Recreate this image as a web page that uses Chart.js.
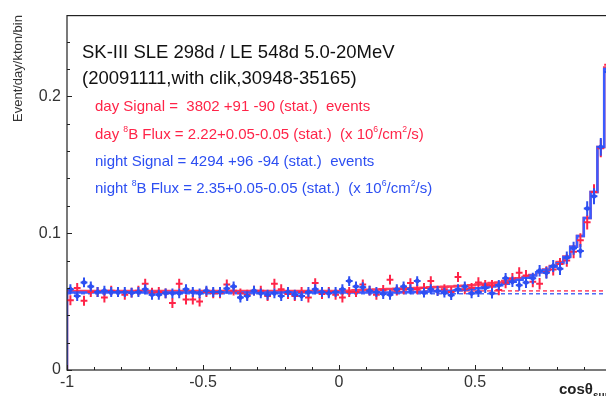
<!DOCTYPE html>
<html>
<head>
<meta charset="utf-8">
<script src="https://cdn.jsdelivr.net/npm/chart.js@4.4.1/dist/chart.umd.min.js"></script>
<style>
  html, body { margin:0; padding:0; background:#fff; overflow:hidden; width:606px; height:396px; }
  #wrap { position:absolute; left:0; top:0; width:614px; height:396px; }
</style>
</head>
<body>
<div id="wrap"><canvas id="c"></canvas></div>
<script>
// ===== Data =====
const xMin = -1, xMax = 1;
const nBins = 80;
const yMax = 0.259;
const xTickLabels = [-1, -0.5, 0, 0.5];
const yTickLabels = [0, 0.1, 0.2];

// day (red) and night (blue) event rates per bin
const dayPoints = [
  0.051, 0.060, 0.0506, 0.057, 0.057, 0.053, 0.058, 0.057, 0.055, 0.0565,
  0.058, 0.063, 0.0565, 0.057, 0.056, 0.049, 0.063, 0.0515, 0.0515, 0.050,
  0.057, 0.056, 0.056, 0.0625, 0.058, 0.056, 0.055, 0.058, 0.058, 0.054,
  0.063, 0.059, 0.0555, 0.054, 0.057, 0.053, 0.0635, 0.0555, 0.057, 0.055,
  0.053, 0.057, 0.057, 0.0625, 0.058, 0.055, 0.0585, 0.066, 0.058, 0.059,
  0.0635, 0.059, 0.060, 0.065, 0.058, 0.059, 0.057, 0.068, 0.059, 0.060,
  0.064, 0.062, 0.062, 0.0584, 0.0637, 0.067, 0.071, 0.069, 0.0645, 0.063,
  0.0716, 0.0735, 0.0774, 0.080, 0.0864, 0.0949, 0.108, 0.130, 0.162, 0.223
];
const nightPoints = [
  0.059, 0.054, 0.064, 0.061, 0.057, 0.058, 0.057, 0.057, 0.057, 0.0565,
  0.057, 0.059, 0.055, 0.055, 0.056, 0.056, 0.056, 0.059, 0.057, 0.056,
  0.058, 0.057, 0.057, 0.0595, 0.061, 0.053, 0.054, 0.058, 0.056, 0.055,
  0.056, 0.054, 0.057, 0.055, 0.054, 0.057, 0.059, 0.057, 0.056, 0.057,
  0.059, 0.065, 0.061, 0.0605, 0.058, 0.057, 0.0555, 0.055, 0.059, 0.061,
  0.059, 0.065, 0.0565, 0.059, 0.0577, 0.0565, 0.0547, 0.059, 0.061, 0.056,
  0.057, 0.060, 0.056, 0.062, 0.067, 0.0645, 0.062, 0.064, 0.067, 0.0725,
  0.071, 0.076, 0.074, 0.082, 0.089, 0.087, 0.118, 0.127, 0.163, 0.218
];
// statistical error (half height of the cross)
const pointErr = [
  0.0036, 0.0036, 0.0036, 0.0036, 0.0036, 0.0036, 0.0036, 0.0036, 0.0036, 0.0036,
  0.0036, 0.0036, 0.0036, 0.0036, 0.0036, 0.0036, 0.0036, 0.0036, 0.0036, 0.0036,
  0.0036, 0.0036, 0.0036, 0.0036, 0.0036, 0.0036, 0.0036, 0.0036, 0.0036, 0.0036,
  0.0036, 0.0036, 0.0036, 0.0036, 0.0036, 0.0036, 0.0036, 0.0036, 0.0036, 0.0036,
  0.0036, 0.0036, 0.0036, 0.0036, 0.0036, 0.0036, 0.0036, 0.0036, 0.0036, 0.0036,
  0.0036, 0.0036, 0.0036, 0.0036, 0.0036, 0.0036, 0.0036, 0.0036, 0.0036, 0.0036,
  0.0037, 0.0037, 0.0038, 0.0038, 0.0039, 0.0039, 0.0040, 0.0040, 0.0041, 0.0042,
  0.0043, 0.0044, 0.0045, 0.0046, 0.0048, 0.0050, 0.0053, 0.0058, 0.0065, 0.0075
];
// fitted signal + background (step histograms)
const dayFit = [
  0.0578, 0.0578, 0.0578, 0.0578, 0.0578, 0.0578, 0.0578, 0.0578, 0.0578, 0.0578,
  0.0578, 0.0578, 0.0578, 0.0578, 0.0578, 0.0578, 0.0578, 0.0578, 0.0578, 0.0578,
  0.0578, 0.0578, 0.0578, 0.0578, 0.0578, 0.0578, 0.0578, 0.0578, 0.0578, 0.0578,
  0.0578, 0.0578, 0.0578, 0.0578, 0.0578, 0.0578, 0.0578, 0.0578, 0.0578, 0.0578,
  0.0578, 0.0580, 0.0582, 0.0584, 0.0586, 0.0588, 0.0590, 0.0592, 0.0594, 0.0596,
  0.0598, 0.0600, 0.0602, 0.0604, 0.0606, 0.0608, 0.0610, 0.0613, 0.0616, 0.0620,
  0.0625, 0.0630, 0.0635, 0.0640, 0.0650, 0.0660, 0.0670, 0.0680, 0.0695, 0.0715,
  0.0735, 0.0760, 0.0790, 0.0830, 0.0900, 0.0980, 0.1110, 0.1300, 0.1630, 0.2210
];
const nightFit = [
  0.0566, 0.0566, 0.0566, 0.0566, 0.0566, 0.0566, 0.0566, 0.0566, 0.0566, 0.0566,
  0.0566, 0.0566, 0.0566, 0.0566, 0.0566, 0.0566, 0.0566, 0.0566, 0.0566, 0.0566,
  0.0566, 0.0566, 0.0566, 0.0566, 0.0566, 0.0566, 0.0566, 0.0566, 0.0566, 0.0566,
  0.0566, 0.0566, 0.0566, 0.0566, 0.0566, 0.0566, 0.0566, 0.0566, 0.0566, 0.0566,
  0.0566, 0.0566, 0.0566, 0.0566, 0.0566, 0.0566, 0.0566, 0.0566, 0.0567, 0.0568,
  0.0569, 0.0570, 0.0571, 0.0573, 0.0575, 0.0577, 0.0580, 0.0583, 0.0587, 0.0592,
  0.0598, 0.0605, 0.0610, 0.0620, 0.0630, 0.0645, 0.0660, 0.0675, 0.0690, 0.0715,
  0.0730, 0.0755, 0.0780, 0.0825, 0.0900, 0.0980, 0.1110, 0.1300, 0.1630, 0.2200
];
// flat background levels (dashed)
const dayBg = 0.0578;
const nightBg = 0.0557;

const RED = "#ff2448";
const BLUE = "#2d4ff2";

// ===== Helpers =====
const binW = (xMax - xMin) / nBins;
function stepData(vals){
  const d = [{x: xMin, y: 0}];
  vals.forEach((v, i) => d.push({x: xMin + i*binW, y: v}));
  d.push({x: xMax, y: vals[vals.length-1]});
  return d;
}
function flatData(v){ return [{x: xMin, y: v}, {x: xMax, y: v}]; }

// texts, "^" marks a superscript part
const headLines = [
  {parts:["SK-III SLE 298d / LE 548d 5.0-20MeV"], color:"#111", size:18.5, x:82, y:58},
  {parts:["(20091111,with clik,30948-35165)"], color:"#111", size:18.5, x:82, y:84},
  {parts:["day Signal =  3802 +91 -90 (stat.)  events"], color:RED, size:15, x:95, y:111},
  {parts:["day ", "^8", "B Flux = 2.22+0.05-0.05 (stat.)  (x 10", "^6", "/cm", "^2", "/s)"], color:RED, size:15, x:95, y:139},
  {parts:["night Signal = 4294 +96 -94 (stat.)  events"], color:BLUE, size:15, x:95, y:166},
  {parts:["night ", "^8", "B Flux = 2.35+0.05-0.05 (stat.)  (x 10", "^6", "/cm", "^2", "/s)"], color:BLUE, size:15, x:95, y:193}
];

function drawRich(ctx, line){
  let x = line.x;
  line.parts.forEach(p => {
    const sup = p.startsWith("^");
    const t = sup ? p.slice(1) : p;
    const s = sup ? line.size*0.58 : line.size;
    ctx.font = s + "px 'Liberation Sans', Arial, sans-serif";
    ctx.fillStyle = line.color;
    ctx.fillText(t, x, sup ? line.y - line.size*0.45 : line.y);
    x += ctx.measureText(t).width;
  });
}

function drawCrosses(chart, vals, color, marker){
  const ctx = chart.ctx, xs = chart.scales.x, ys = chart.scales.y;
  const a = chart.chartArea;
  ctx.save();
  ctx.beginPath(); ctx.rect(a.left, a.top, a.right - a.left, a.bottom - a.top); ctx.clip();
  ctx.strokeStyle = color; ctx.fillStyle = color; ctx.lineWidth = 2;
  vals.forEach((v, i) => {
    const c = xMin + (i + 0.5)*binW;
    const px = xs.getPixelForValue(c);
    const py = ys.getPixelForValue(v);
    ctx.beginPath();
    ctx.moveTo(xs.getPixelForValue(c - binW/2), py);
    ctx.lineTo(xs.getPixelForValue(c + binW/2), py);
    ctx.moveTo(px, ys.getPixelForValue(v - pointErr[i]));
    ctx.lineTo(px, ys.getPixelForValue(v + pointErr[i]));
    ctx.stroke();
    if(marker){
      ctx.beginPath();
      ctx.moveTo(px, py - 3.2); ctx.lineTo(px + 3.2, py); ctx.lineTo(px, py + 3.2); ctx.lineTo(px - 3.2, py);
      ctx.closePath(); ctx.fill();
    }
  });
  ctx.restore();
}

const decor = {
  id: "decor",
  afterDatasetsDraw(chart){
    drawCrosses(chart, dayPoints, RED, false);
    drawCrosses(chart, nightPoints, BLUE, true);
  },
  afterDraw(chart){
    const ctx = chart.ctx, a = chart.chartArea, xs = chart.scales.x, ys = chart.scales.y;
    ctx.save();
    // frame
    ctx.strokeStyle = "#222"; ctx.lineWidth = 1.2;
    ctx.strokeRect(a.left, a.top, a.right - a.left, a.bottom - a.top);
    // inward ticks
    ctx.lineWidth = 1;
    for(let k = 0; k <= 12; k++){
      const v = k*0.02;
      const py = Math.round(ys.getPixelForValue(v)) + 0.5;
      const len = (k % 5 === 0) ? 5 : 3;
      ctx.beginPath(); ctx.moveTo(a.left, py); ctx.lineTo(a.left + len, py); ctx.stroke();
    }
    for(let k = 0; k <= 20; k++){
      const v = xMin + k*0.1;
      const px = Math.round(xs.getPixelForValue(v)) + 0.5;
      const len = (k % 5 === 0) ? 5 : 3;
      ctx.beginPath(); ctx.moveTo(px, a.bottom); ctx.lineTo(px, a.bottom - len); ctx.stroke();
    }
    // header texts
    ctx.textBaseline = "alphabetic"; ctx.textAlign = "left";
    headLines.forEach(l => drawRich(ctx, l));
    // y title
    ctx.save();
    ctx.translate(22, 122); ctx.rotate(-Math.PI/2);
    ctx.fillStyle = "#333"; ctx.font = "13px 'Liberation Sans', Arial, sans-serif";
    ctx.fillText("Event/day/kton/bin", 0, 0);
    ctx.restore();
    // x title
    ctx.fillStyle = "#222"; ctx.font = "bold 15px 'Liberation Sans', Arial, sans-serif";
    ctx.fillText("cos\u03b8", 559, 394);
    const w = ctx.measureText("cos\u03b8").width;
    ctx.font = "bold 10px 'Liberation Sans', Arial, sans-serif";
    ctx.fillText("sun", 559 + w, 399);
    ctx.restore();
  }
};

// ===== Chart =====
// Chart.js paints the first dataset on top, so night (blue) comes first
new Chart(document.getElementById("c"), {
  type: "line",
  data: {
    datasets: [
      { data: stepData(nightFit), borderColor: "#3a5cff", borderWidth: 2.5, stepped: "before", pointRadius: 0 },
      { data: stepData(dayFit), borderColor: "#ff3a5a", borderWidth: 2.5, stepped: "before", pointRadius: 0 },
      { data: flatData(nightBg), borderColor: "#4e6cf5", borderWidth: 1.6, borderDash: [4, 3], pointRadius: 0 },
      { data: flatData(dayBg), borderColor: "#ff5c78", borderWidth: 1.6, borderDash: [4, 3], pointRadius: 0 }
    ]
  },
  options: {
    responsive: true,
    maintainAspectRatio: false,
    animation: false,
    layout: { padding: { top: 15, right: 3, left: 0, bottom: 0 } },
    plugins: { legend: { display: false }, tooltip: { enabled: false } },
    scales: {
      x: {
        type: "linear", min: xMin, max: xMax,
        afterFit(s){ s.height = 26; },
        afterBuildTicks(s){ s.ticks = xTickLabels.map(v => ({value: v})); },
        grid: { display: false, drawTicks: false },
        border: { display: false },
        ticks: { padding: 3, color: "#333", maxRotation: 0, autoSkip: false,
                 font: { family: "'Liberation Sans', Arial, sans-serif", size: 16 },
                 callback: v => String(v) }
      },
      y: {
        min: 0, max: yMax,
        afterFit(s){ s.width = 67; },
        afterBuildTicks(s){ s.ticks = yTickLabels.map(v => ({value: v})); },
        grid: { display: false, drawTicks: false },
        border: { display: false },
        ticks: { padding: 6, color: "#333",
                 font: { family: "'Liberation Sans', Arial, sans-serif", size: 16 },
                 callback: v => String(v) }
      }
    }
  },
  plugins: [decor]
});
</script>
</body>
</html>
